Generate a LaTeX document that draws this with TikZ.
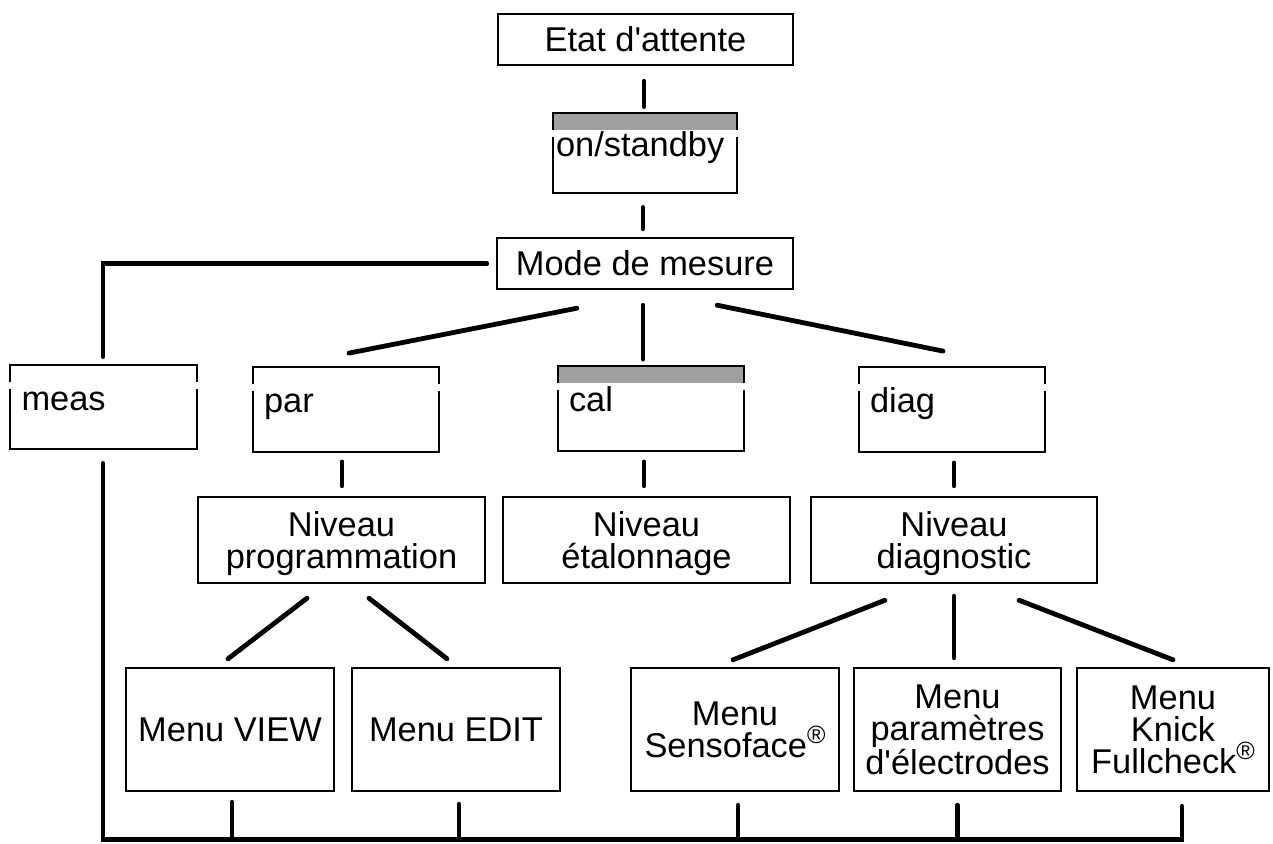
\documentclass[tikz,border=0pt]{standalone}
\usepackage{fontspec}
\setmainfont{Liberation Sans}
\usetikzlibrary{calc}
\definecolor{keygrey}{HTML}{A0A0A0}
\newcommand{\regmark}{\raisebox{0.75ex}{\fontsize{12.5}{12.5}\selectfont ®}}

\begin{document}
\begin{tikzpicture}[x=0.5pt, y=-0.5pt,
    box/.style={draw, line width=1.2pt, inner sep=0pt, align=center, text depth=0pt,
        font=\fontsize{17.2}{16}\selectfont},
    keybody/.style={inner xsep=5.5pt, inner ysep=0pt, minimum width=93pt,
        minimum height=42pt, text width=82pt, align=left, text height=8pt,
        text depth=5pt, font=\fontsize{17.2}{16}\selectfont},
    keyline/.style={line width=1pt},
    link/.style={line width=2.4pt, line cap=round}]
    \useasboundingbox (0,0) rectangle (1273,843);

    % Top: standby, key, measuring mode
    \node[box, minimum width=147.5pt, minimum height=25.5pt] (etat) at (645.5,39.5) {Etat d\textquotesingle attente};
    \node[keybody, minimum height=40pt, inner xsep=1.5pt, text width=89pt, minimum width=92pt] (onkey) at (645,153) {on/standby};
    \node[box, minimum width=148pt, minimum height=25.5pt] (mode) at (645,263.5) {Mode de mesure};

    % Keys
    \node[keybody] (meas) at (103.5,407) {meas};
    \node[keybody] (par) at (346,409.5) {par};
    \node[keybody] (cal) at (651,408.5) {cal};
    \node[keybody] (diag) at (952,409.5) {diag};

    % Levels
    \node[box, minimum width=143.5pt, minimum height=43pt] (nprog) at (341.5,540) {Niveau\\programmation};
    \node[box, minimum width=143.5pt, minimum height=43pt] (netal) at (646.5,540) {Niveau\\étalonnage};
    \node[box, minimum width=143pt, minimum height=43pt] (ndiag) at (954,540) {Niveau\\diagnostic};

    % Menus
    \node[box, minimum width=104pt, minimum height=61.5pt] (view) at (230,729.5) {Menu VIEW};
    \node[box, minimum width=104pt, minimum height=61.5pt] (edit) at (456,729.5) {Menu EDIT};
    \node[box, minimum width=104pt, minimum height=61.5pt] (senso) at (735,729.5) {Menu\\Sensoface\regmark};
    \node[box, minimum width=103.5pt, minimum height=61.5pt] (param) at (957.5,729.5) {Menu\\paramètres\\d\textquotesingle électrodes};
    \node[box, minimum width=96pt, minimum height=61.5pt] (full) at (1173,729.5) {Menu\\Knick\\Fullcheck\regmark};

    % Key outlines (grey cap = key pressed)
    \fill[keygrey] (onkey.north west) rectangle ($(onkey.north east)+(0,17)$);
    \draw[keyline] ($(onkey.north west)+(0,17)$) |- (onkey.north east) -- ($(onkey.north east)+(0,17)$);
    \draw[keyline] ($(onkey.north west)+(0,24)$) |- (onkey.south east) -- ($(onkey.north east)+(0,24)$);
    \draw[keyline] ($(meas.north west)+(0,17)$) |- (meas.north east) -- ($(meas.north east)+(0,17)$);
    \draw[keyline] ($(meas.north west)+(0,24)$) |- (meas.south east) -- ($(meas.north east)+(0,24)$);
    \draw[keyline] ($(par.north west)+(0,17)$) |- (par.north east) -- ($(par.north east)+(0,17)$);
    \draw[keyline] ($(par.north west)+(0,24)$) |- (par.south east) -- ($(par.north east)+(0,24)$);
    \fill[keygrey] (cal.north west) rectangle ($(cal.north east)+(0,17)$);
    \draw[keyline] ($(cal.north west)+(0,17)$) |- (cal.north east) -- ($(cal.north east)+(0,17)$);
    \draw[keyline] ($(cal.north west)+(0,24)$) |- (cal.south east) -- ($(cal.north east)+(0,24)$);
    \draw[keyline] ($(diag.north west)+(0,17)$) |- (diag.north east) -- ($(diag.north east)+(0,17)$);
    \draw[keyline] ($(diag.north west)+(0,24)$) |- (diag.south east) -- ($(diag.north east)+(0,24)$);

    % Connectors
    \draw[link] ($(etat.south)+(-1.5,15)$) -- ($(onkey.north)+(-1,-6)$);
    \draw[link] ($(onkey.south)+(-2,14)$) -- ($(mode.north)+(-2,-8)$);
    \draw[link] ($(mode.west)+(-9,0)$) -| ($(meas.north)+(-0.5,-8)$);
    \draw[link] ($(mode.south west)+(81,18)$) -- ($(par.north)+(3,-14)$);
    \draw[link] ($(mode.south)+(-2,15)$) -- ($(cal.north)+(-8,-7)$);
    \draw[link] ($(mode.south east)+(-77,15)$) -- ($(diag.north)+(-9,-16)$);
    \draw[link] ($(par.south)+(-4,10)$) -- ($(nprog.north)+(0.5,-10)$);
    \draw[link] ($(cal.south)+(-7,11)$) -- ($(netal.north)+(-2.5,-10)$);
    \draw[link] ($(diag.south)+(2,11)$) -- ($(ndiag.north)+(0,-10)$);
    \draw[link] ($(nprog.south)+(-34.5,14)$) -- ($(view.north)+(-2,-8)$);
    \draw[link] ($(nprog.south)+(27.5,14)$) -- ($(edit.north)+(-9,-8)$);
    \draw[link] ($(ndiag.south)+(-69,16)$) -- ($(senso.north)+(-2,-7)$);
    \draw[link] ($(ndiag.south)+(0,12)$) -- ($(param.north)+(-3.5,-9)$);
    \draw[link] ($(ndiag.south)+(65,16)$) -- ($(full.north)+(0,-7)$);

    % Return line to measuring mode
    \draw[link] ($(meas.south)+(-0.5,14)$) |- ($(full.south)+(9,47)$) -- ($(full.south)+(9,14)$);
    \draw[link] ($(view.south)+(2,10)$) -- ($(view.south)+(2,47)$);
    \draw[link] ($(edit.south)+(3,12)$) -- ($(edit.south)+(3,47)$);
    \draw[link] ($(senso.south)+(3,13)$) -- ($(senso.south)+(3,47)$);
    \draw[link] ($(param.south)+(0,13)$) -- ($(param.south)+(0,47)$);
\end{tikzpicture}
\end{document}
